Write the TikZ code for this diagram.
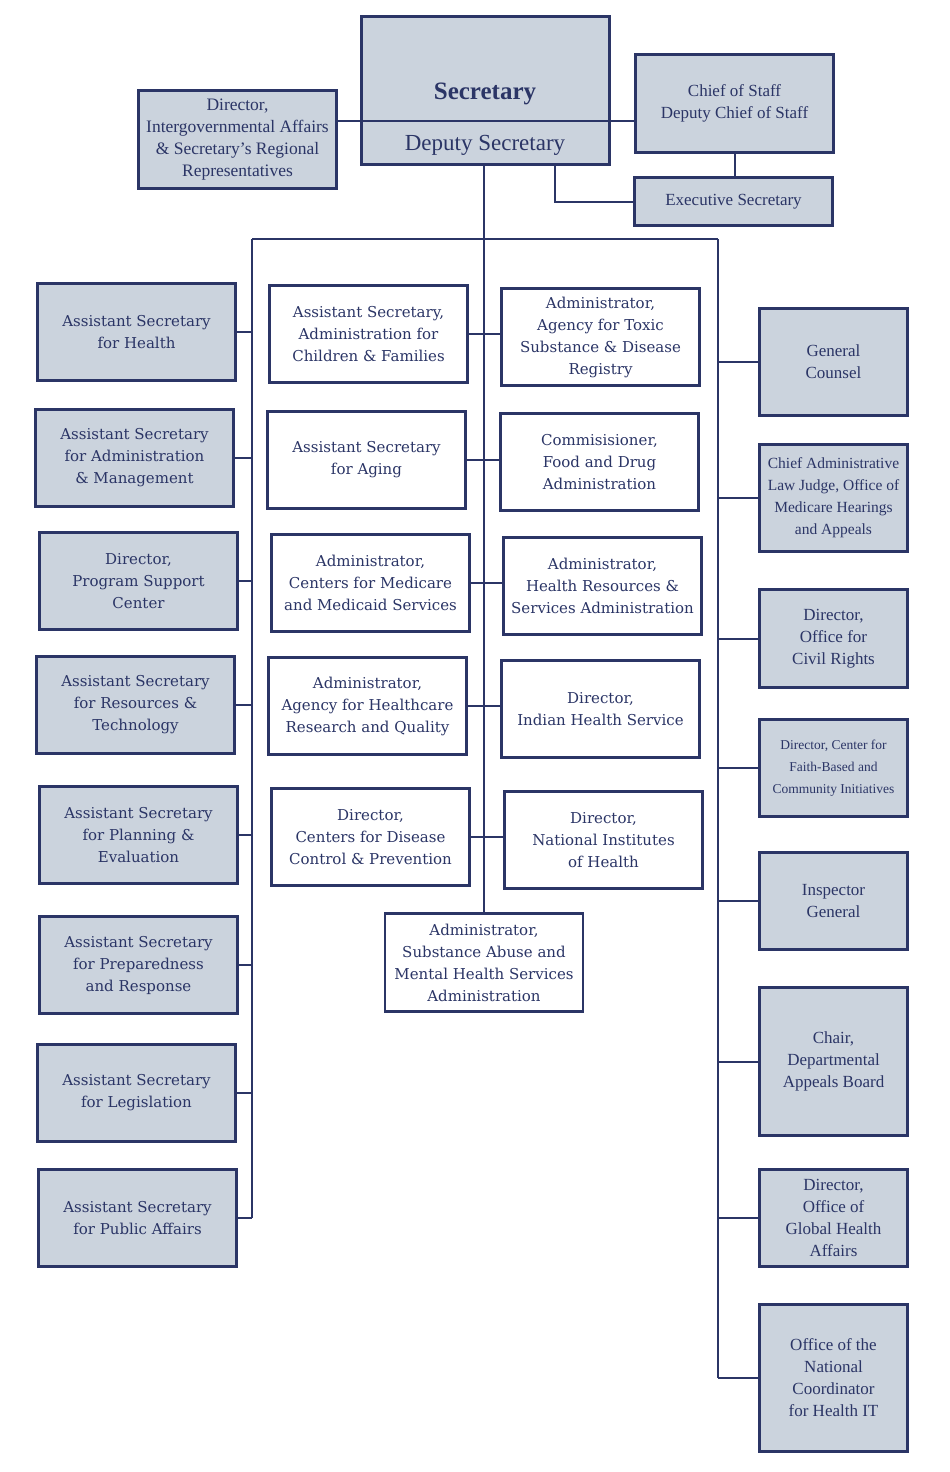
\documentclass[tikz,border=0pt]{standalone}
\usepackage{fontspec}
\setmainfont{DejaVu Serif}
\newfontfamily\narrowfont{Liberation Serif}
\definecolor{navy}{HTML}{2B3566}
\definecolor{greyblue}{HTML}{CBD3DD}
\tikzset{
  unit/.style={draw=navy, line width=2.8pt, text=navy, align=center, inner sep=0pt,
    minimum width=198pt, minimum height=97pt, font=\fontsize{15}{22}\selectfont},
  office/.style={unit, fill=greyblue},
  agency/.style={unit, fill=white},
  staff/.style={office, minimum width=148pt, font=\narrowfont\fontsize{17}{22}\selectfont},
  link/.style={draw=navy, line width=2pt}
}
\begin{document}
\begin{tikzpicture}[x=1pt, y=-1pt]
  \useasboundingbox (0,0) rectangle (950,1472);

  \coordinate (lb) at (252,239);
  \coordinate (rb) at (718,239);
  \coordinate (divy) at (485,121);
  \coordinate (tap) at (555,166);

  \node[office, minimum width=248pt, minimum height=148pt] (sec) at (485.5,90.5) {};
  \node[staff, minimum width=198pt, minimum height=98pt, font=\narrowfont\fontsize{17.5}{22}\selectfont] (iga) at (237.5,139.5)
    {Director,\\Intergovernmental Affairs\\\& Secretary’s Regional\\Representatives};
  \node[staff, minimum width=198pt, minimum height=98pt] (cos) at (734.5,103.5) {Chief of Staff\\Deputy Chief of Staff};
  \node[staff, minimum width=198pt, minimum height=48pt] (exec) at (733.5,201.5) {Executive Secretary};

  \node[text=navy, font=\narrowfont\bfseries\fontsize{25}{28}\selectfont] (secname) at (485,94) {Secretary};
  \node[text=navy, font=\narrowfont\fontsize{23}{26}\selectfont] (dep) at (485,145) {Deputy Secretary};

  % left column
  \node[office] (ash)  at (136.5,332)  {Assistant Secretary\\for Health};
  \node[office] (asam) at (134.5,458)  {Assistant Secretary\\for Administration\\\& Management};
  \node[office] (psc)  at (138.5,581)  {Director,\\Program Support\\Center};
  \node[office] (asrt) at (135.5,705)  {Assistant Secretary\\for Resources \&\\Technology};
  \node[office] (aspe) at (138.5,835)  {Assistant Secretary\\for Planning \&\\Evaluation};
  \node[office] (aspr) at (138.5,965)  {Assistant Secretary\\for Preparedness\\and Response};
  \node[office] (asl)  at (136.5,1093) {Assistant Secretary\\for Legislation};
  \node[office] (aspa) at (137.5,1218) {Assistant Secretary\\for Public Affairs};

  % operating divisions
  \node[agency] (acf)  at (368.5,334) {Assistant Secretary,\\Administration for\\Children \& Families};
  \node[agency] (aoa)  at (366.5,460) {Assistant Secretary\\for Aging};
  \node[agency] (cms)  at (370.5,583) {Administrator,\\Centers for Medicare\\and Medicaid Services};
  \node[agency] (ahrq) at (367.5,706) {Administrator,\\Agency for Healthcare\\Research and Quality};
  \node[agency] (cdc)  at (370.5,837) {Director,\\Centers for Disease\\Control \& Prevention};

  \node[agency] (atsdr) at (600.5,337) {Administrator,\\Agency for Toxic\\Substance \& Disease\\Registry};
  \node[agency] (fda)   at (599.5,462) {Commisisioner,\\Food and Drug\\Administration};
  \node[agency] (hrsa)  at (602.5,586) {Administrator,\\Health Resources \&\\Services Administration};
  \node[agency] (ihs)   at (600.5,709) {Director,\\Indian Health Service};
  \node[agency] (nih)   at (603.5,840) {Director,\\National Institutes\\of Health};
  \node[agency, minimum height=98pt] (samhsa) at (484,962.5) {Administrator,\\Substance Abuse and\\Mental Health Services\\Administration};

  % right column
  \node[staff, minimum height=107pt] (gc)   at (833.5,362)    {General\\Counsel};
  \node[staff, minimum height=107pt, font=\narrowfont\fontsize{15.5}{22}\selectfont] (calj) at (833.5,498)
    {Chief Administrative\\Law Judge, Office of\\Medicare Hearings\\and Appeals};
  \node[staff, minimum height=98pt]  (ocr)  at (833.5,638.5)  {Director,\\Office for\\Civil Rights};
  \node[staff, font=\narrowfont\fontsize{13.5}{22}\selectfont] (faith) at (833.5,768)
    {Director, Center for\\Faith-Based and\\Community Initiatives};
  \node[staff] (ig)   at (833.5,901)    {Inspector\\General};
  \node[staff, minimum height=148pt] (dab)  at (833.5,1061.5) {Chair,\\Departmental\\Appeals Board};
  \node[staff] (ogha) at (833.5,1218)   {Director,\\Office of\\Global Health\\Affairs};
  \node[staff, minimum height=147pt] (onc)  at (833.5,1378)   {Office of the\\National\\Coordinator\\for Health IT};

  \draw[link] (iga.east |- divy) -- (cos.west |- divy);
  \draw[link] (cos.south) -- (cos.south |- exec.north);
  \draw[link] (tap) |- (exec.west);
  \draw[link] (sec.south -| samhsa.north) -- (samhsa.north);
  \draw[link] (lb) -- (rb);
  \draw[link] (lb) -- (lb |- aspa.east);
  \draw[link] (rb) -- (rb |- onc.west);

  \foreach \n in {ash,asam,psc,asrt,aspe,aspr,asl,aspa}
    \draw[link] (\n.east) -- (\n.east -| lb);
  \foreach \n in {gc,calj,ocr,faith,ig,dab,ogha,onc}
    \draw[link] (\n.west -| rb) -- (\n.west);
  \foreach \a/\b in {acf/atsdr,aoa/fda,cms/hrsa,ahrq/ihs,cdc/nih}
    \draw[link] (\a.east) -- (\a.east -| \b.west);

\end{tikzpicture}
\end{document}
